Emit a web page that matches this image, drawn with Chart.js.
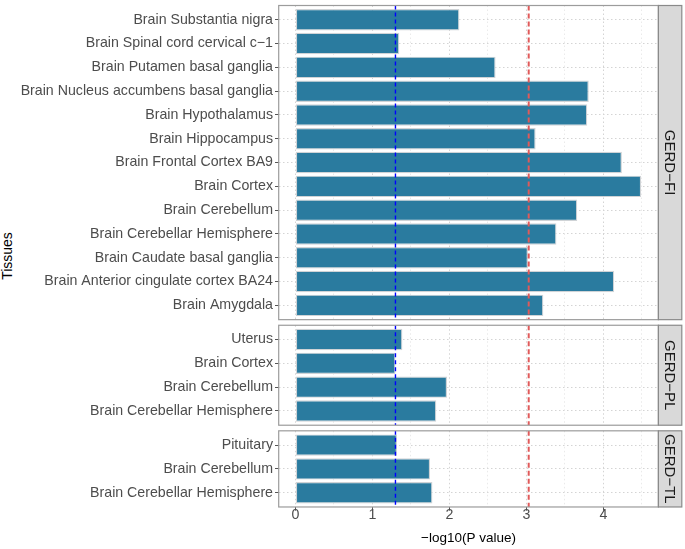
<!DOCTYPE html>
<html>
<head>
<meta charset="utf-8">
<script src="https://cdn.jsdelivr.net/npm/chart.js@4/dist/chart.umd.min.js"></script>
<style>
  html, body { margin:0; padding:0; background:#ffffff; }
  body { width:685px; height:549px; overflow:hidden; position:relative;
         font-family:"Liberation Sans", Arial, sans-serif; }
  canvas.panel { position:absolute; left:0; }
  #ytitle { position:absolute; left:7px; top:256px; transform:translate(-50%,-50%) rotate(-90deg);
            font-size:14px; color:#000; white-space:nowrap; line-height:1; }
</style>
</head>
<body>
<div id="ytitle">Tissues</div>
<canvas id="p0" class="panel"></canvas>
<canvas id="p1" class="panel"></canvas>
<canvas id="p2" class="panel"></canvas>
<script>
// ---------------- data ----------------
const facetNames = ["GERD\u2212FI", "GERD\u2212PL", "GERD\u2212TL"];

const fiTissues = [
  "Brain Substantia nigra",
  "Brain Spinal cord cervical c\u22121",
  "Brain Putamen basal ganglia",
  "Brain Nucleus accumbens basal ganglia",
  "Brain Hypothalamus",
  "Brain Hippocampus",
  "Brain Frontal Cortex BA9",
  "Brain Cortex",
  "Brain Cerebellum",
  "Brain Cerebellar Hemisphere",
  "Brain Caudate basal ganglia",
  "Brain Anterior cingulate cortex BA24",
  "Brain Amygdala"
];
const fiValues = [2.13, 1.35, 2.60, 3.81, 3.79, 3.12, 4.24, 4.49, 3.66, 3.39, 3.02, 4.14, 3.22];

const plTissues = ["Uterus", "Brain Cortex", "Brain Cerebellum", "Brain Cerebellar Hemisphere"];
const plValues = [1.39, 1.30, 1.97, 1.83];

const tlTissues = ["Pituitary", "Brain Cerebellum", "Brain Cerebellar Hemisphere"];
const tlValues = [1.32, 1.75, 1.78];

const xTickLabels = ["0", "1", "2", "3", "4"];
const nominalThreshold = 1.30;      // blue dashed line
const correctedThreshold = 3.03;    // red dashed line
const xAxisTitle = "\u2212log10(P value)";

// ---------------- layout / style ----------------
const W = 685;
const PANEL_LEFT = 278.7, PANEL_RIGHT = 658.4, STRIP_W = 23.4;
const UNIT = 23.8, GAP = 5.6, FIRST_TOP = 5.5, PAGE_H = 549;
const X_MIN = -0.216, X_MAX = 4.714;
const FONT = "'Liberation Sans', Arial, sans-serif";
const BAR_FILL = "#2A7B9F", BAR_EDGE = "#CFD3D6";
const TEXT_GREY = "#4D4D4D";

Chart.defaults.font.family = FONT;

const panelDecor = {
  id: 'panelDecor',
  afterDatasetsDraw(chart) {
    const {ctx, chartArea: a, scales: {x}} = chart;
    ctx.save();
    ctx.beginPath(); ctx.rect(a.left, a.top, a.width, a.height); ctx.clip();
    const lines = [
      [nominalThreshold, '#0000FF', 1.4, [4, 3]],
      [correctedThreshold, '#E05A5A', 2.0, [5, 3]]
    ];
    lines.forEach(([v, col, lw, dash]) => {
      const px = x.getPixelForValue(v);
      ctx.strokeStyle = col; ctx.lineWidth = lw; ctx.setLineDash(dash);
      ctx.beginPath(); ctx.moveTo(px, a.top); ctx.lineTo(px, a.bottom); ctx.stroke();
    });
    ctx.restore();
  },
  afterDraw(chart, args, opts) {
    const {ctx, chartArea: a} = chart;
    ctx.save();
    ctx.strokeStyle = '#9C9C9C'; ctx.lineWidth = 1.2; ctx.setLineDash([]);
    ctx.strokeRect(a.left, a.top, a.width, a.height);
    ctx.fillStyle = '#D9D9D9';
    ctx.fillRect(a.right, a.top, STRIP_W, a.height);
    ctx.strokeStyle = '#8A8A8A'; ctx.lineWidth = 1.2;
    ctx.strokeRect(a.right, a.top, STRIP_W, a.height);
    ctx.translate(a.right + STRIP_W / 2, (a.top + a.bottom) / 2);
    ctx.rotate(Math.PI / 2);
    ctx.fillStyle = '#1A1A1A';
    ctx.font = "15px " + FONT;
    ctx.textAlign = 'center'; ctx.textBaseline = 'middle';
    ctx.fillText(opts.label, 0, 1);
    ctx.restore();
  }
};

const panels = [
  {labels: fiTissues, values: fiValues},
  {labels: plTissues, values: plValues},
  {labels: tlTissues, values: tlValues}
];

let panelTop = FIRST_TOP;
panels.forEach((p, k) => {
  const n = p.labels.length;
  const h = (n - 1 + 1.2) * UNIT;
  const pTop = panelTop;
  const pBottom = pTop + h;
  const last = k === panels.length - 1;
  const cTop = Math.floor(pTop) - 3;
  const cBottom = last ? PAGE_H : Math.ceil(pBottom) + 3;
  const cH = cBottom - cTop;
  const canvas = document.getElementById('p' + k);
  canvas.style.top = cTop + 'px';
  canvas.width = W; canvas.height = cH;
  canvas.style.width = W + 'px'; canvas.style.height = cH + 'px';

  new Chart(canvas, {
    type: 'bar',
    data: {
      datasets: [{
        data: p.values.map((v, i) => ({x: v, y: i})),
        backgroundColor: BAR_FILL,
        borderColor: BAR_EDGE,
        borderWidth: 1.2,
        borderSkipped: false,
        categoryPercentage: 0.9,
        barPercentage: 1.0
      }]
    },
    options: {
      indexAxis: 'y',
      responsive: false,
      animation: false,
      events: [],
      layout: {
        padding: {
          left: 0,
          right: W - PANEL_RIGHT,
          top: pTop - cTop,
          bottom: last ? 0 : cBottom - pBottom
        }
      },
      plugins: {
        legend: {display: false},
        tooltip: {enabled: false},
        panelDecor: {label: facetNames[k]}
      },
      scales: {
        y: {
          type: 'linear',
          reverse: true,
          offset: false,
          min: -0.6,
          max: n - 1 + 0.6,
          afterFit(s) { s.width = PANEL_LEFT; s.paddingTop = 0; s.paddingBottom = 0; },
          border: {display: false, dash: [1.5, 2.5]},
          grid: {
            offset: false,
            color: '#D4D4D4', lineWidth: 1,
            drawTicks: true, tickLength: 3.7, tickColor: '#555555', tickWidth: 1, tickBorderDash: []
          },
          ticks: {
            stepSize: 1, includeBounds: false, autoSkip: false, padding: 2,
            color: TEXT_GREY, font: {size: 14.2},
            callback: (v) => p.labels[Math.round(v)] ?? ''
          }
        },
        x: {
          type: 'linear',
          min: X_MIN,
          max: X_MAX,
          afterFit(s) {
            s.paddingLeft = 0; s.paddingRight = 0;
            s.height = last ? (PAGE_H - pBottom) : 0;
          },
          border: {display: false, dash: [1.5, 2.5]},
          grid: {
            color: (c) => (c.tick && Number.isInteger(c.tick.value)) ? '#D4D4D4' : '#E4E4E4',
            lineWidth: (c) => (c.tick && Number.isInteger(c.tick.value)) ? 1 : 0.8,
            drawTicks: last, tickLength: 3.7, tickWidth: 1, tickBorderDash: [],
            tickColor: (c) => (c.tick && Number.isInteger(c.tick.value)) ? '#555555' : 'rgba(0,0,0,0)'
          },
          ticks: {
            display: last,
            stepSize: 0.5, includeBounds: false, autoSkip: false, maxRotation: 0, padding: -3,
            color: TEXT_GREY, font: {size: 14.2, lineHeight: 1},
            callback: (v) => Number.isInteger(v) ? (xTickLabels[v] ?? '') : ''
          },
          title: {
            display: last, text: xAxisTitle, color: '#000000',
            font: {size: 13.5}, padding: {top: 0, bottom: 3}
          }
        }
      }
    },
    plugins: [panelDecor]
  });
  panelTop = pBottom + GAP;
});
</script>
</body>
</html>
